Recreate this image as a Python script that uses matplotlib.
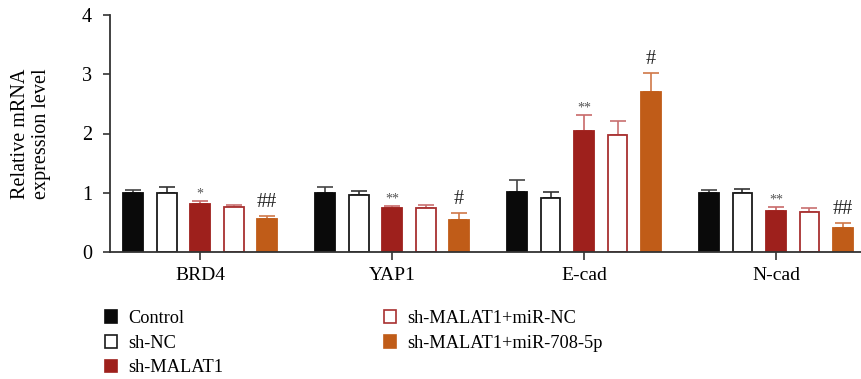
import matplotlib
matplotlib.use("Agg")
import matplotlib.pyplot as plt
from matplotlib.patches import Patch
import numpy as np

plt.rcParams['font.family'] = ['Liberation Serif', 'DejaVu Serif']

genes = ["BRD4", "YAP1", "E-cad", "N-cad"]
groups = ["Control", "sh-NC", "sh-MALAT1", "sh-MALAT1+miR-NC", "sh-MALAT1+miR-708-5p"]

control = [1.00, 1.00, 1.02, 0.99]
control_err = [0.05, 0.09, 0.20, 0.06]
sh_nc = [0.99, 0.96, 0.91, 1.00]
sh_nc_err = [0.10, 0.075, 0.11, 0.07]
sh_malat1 = [0.81, 0.74, 2.04, 0.70]
sh_malat1_err = [0.05, 0.04, 0.28, 0.06]
mir_nc = [0.755, 0.75, 1.975, 0.675]
mir_nc_err = [0.045, 0.04, 0.24, 0.075]
mir_708 = [0.55, 0.54, 2.705, 0.41]
mir_708_err = [0.06, 0.11, 0.315, 0.075]

sig_malat1 = ["*", "**", "**", "**"]
sig_708 = ["##", "#", "#", "##"]

values = [control, sh_nc, sh_malat1, mir_nc, mir_708]
errors = [control_err, sh_nc_err, sh_malat1_err, mir_nc_err, mir_708_err]
faces = ["#0a0a0a", "white", "#9e201c", "white", "#c05c18"]
edges = ["#0a0a0a", "#1a1a1a", "#9e201c", "#a83030", "#c05c18"]
ecols = ["#444444", "#333333", "#c86a6a", "#c87070", "#d07848"]

fig = plt.figure(figsize=(8.62, 3.79), dpi=100)
ax = fig.add_axes([110/862, 127/379, 752/862, 237/379])

x = np.arange(len(genes))
step = 0.1745
width = 0.104
for i in range(5):
    xi = x + (i - 2) * step
    ax.bar(xi, values[i], width=width, color=faces[i], edgecolor=edges[i],
           linewidth=1.3, zorder=2)
    ax.errorbar(xi, values[i], yerr=[np.zeros(4), errors[i]], fmt='none',
                ecolor=ecols[i], elinewidth=1.2, capsize=5.5, capthick=1.2, zorder=1)

for j in range(len(genes)):
    xm = x[j]
    top = sh_malat1[j] + sh_malat1_err[j]
    ax.annotate(sig_malat1[j], (xm, top), xytext=(0, 0), textcoords='offset points',
                ha='center', va='bottom', fontsize=10, color='#555555')
    xo = x[j] + 2 * step
    top = mir_708[j] + mir_708_err[j]
    ax.annotate(sig_708[j], (xo, top), xytext=(0, 3), textcoords='offset points',
                ha='center', va='bottom', fontsize=14.5, color='#222222')

ax.set_xlim(-0.469, 3.448)
ax.set_ylim(0, 4)
ax.set_yticks([0, 1, 2, 3, 4])
ax.set_xticks(x)
ax.set_xticklabels(genes, fontsize=14)
ax.tick_params(axis='y', labelsize=14.5, length=5, width=1.2, color='#333333', pad=8)
ax.tick_params(axis='x', length=6, width=1.2, color='#333333', pad=5)
for s in ['top', 'right']:
    ax.spines[s].set_visible(False)
for s in ['left', 'bottom']:
    ax.spines[s].set_linewidth(1.3)
    ax.spines[s].set_color('#333333')
ax.set_ylabel("Relative mRNA\nexpression level", fontsize=14.5, labelpad=22, linespacing=1.15)

h = [Patch(facecolor=faces[i], edgecolor=edges[i], linewidth=1.2) for i in range(5)]
kw = dict(frameon=False, fontsize=13.2, handlelength=0.65, handleheight=0.7,
          handletextpad=0.6, labelspacing=0.42, borderpad=0, borderaxespad=0)
fig.legend(h[:3], groups[:3], loc='upper left',
           bbox_to_anchor=(105/862, 1 - 310/379), **kw)
fig.legend(h[3:], groups[3:], loc='upper left',
           bbox_to_anchor=(384/862, 1 - 310/379), **kw)

fig.savefig("out.png", dpi=100)
